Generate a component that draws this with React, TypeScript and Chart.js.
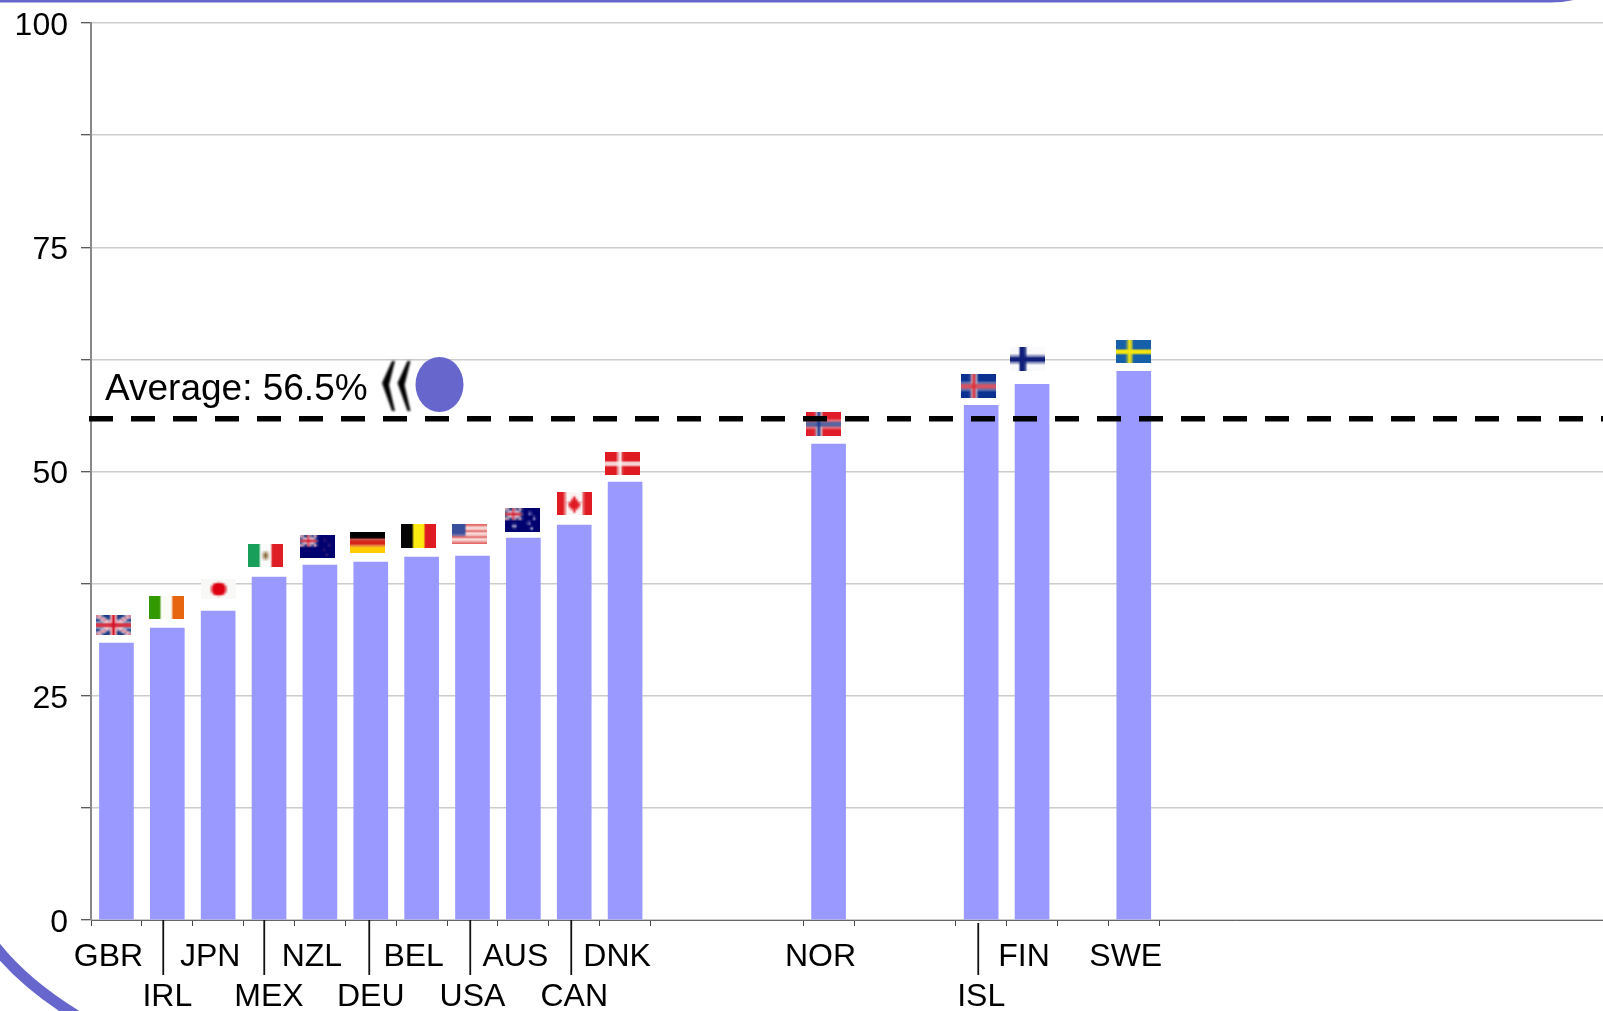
import React, { useEffect, useRef } from "react";
import { Chart, registerables } from "chart.js";

Chart.register(...registerables);

const _ = null;
const slotCodes = ["GBR", "IRL", "JPN", "MEX", "NZL", "DEU", "BEL", "USA", "AUS", "CAN", "DNK", _, _, _, "NOR", _, _, "ISL", "FIN", _, "SWE", _, _, _, _, _, _, _, _, _];
const topRowLabels = ["GBR", "", "JPN", "", "NZL", "", "BEL", "", "AUS", "", "DNK", "", "", "", "NOR", "", "", "", "FIN", "", "SWE", "", "", "", "", "", "", "", "", ""];
const bottomRowLabels = ["", "IRL", "", "MEX", "", "DEU", "", "USA", "", "CAN", "", "", "", "", "", "", "", "ISL", "", "", "", "", "", "", "", "", "", "", "", ""];
const shareValues = [30.87, 32.54, 34.44, 38.23, 39.56, 39.9, 40.45, 40.57, 42.57, 44.02, 48.81, _, _, _, 53.05, _, _, 57.39, 59.73, _, 61.18, _, _, _, _, _, _, _, _, _];
const averageLineValue = 55.87;
const averageCaption = "Average: 56.5%";
const yAxisMax = 100;
const yGridStep = 12.5;
const yLabelStep = 25;

const FONT = '"Liberation Sans", Arial, sans-serif';
const FRAME = "#6666cc";
const BAR = "#9999ff";

// [x shift from bar centre, gap above bar, height] of each flag picture
const FLAG_LAYOUT: Record<string, number[]> = {
  GBR: [-3, 8, 20], IRL: [-1, 9, 23], JPN: [0.5, 12, 20], MEX: [-3.5, 10, 23], NZL: [-2.5, 7, 23],
  DEU: [-3, 9, 21], BEL: [-3, 9, 24], USA: [-3.5, 12, 20], AUS: [-1, 6, 24], CAN: [0, 10, 23],
  DNK: [-2.5, 7, 23], NOR: [-5, 8, 24], ISL: [-2.5, 7, 24], FIN: [-4.5, 13, 24], SWE: [0, 8, 23],
};
// leader lines to the labels of the lower row: shift from slot centre
const LEADERS: Record<string, number> = { IRL: -4, MEX: -5, DEU: -2, USA: -3, CAN: -3.5, ISL: -3 };

function stripesV(c: CanvasRenderingContext2D, w: number, h: number, cols: string[]) {
  cols.forEach((col, i) => { c.fillStyle = col; c.fillRect((i * w) / cols.length, 0, w / cols.length, h); });
}
function stripesH(c: CanvasRenderingContext2D, w: number, h: number, cols: string[]) {
  cols.forEach((col, i) => { c.fillStyle = col; c.fillRect(0, (i * h) / cols.length, w, h / cols.length); });
}
function cross(c: CanvasRenderingContext2D, w: number, h: number, cx: number, t: number, col: string) {
  c.fillStyle = col;
  c.fillRect(cx - t / 2, 0, t, h);
  c.fillRect(0, h / 2 - t / 2, w, t);
}
function union(c: CanvasRenderingContext2D, w: number, h: number) {
  c.fillStyle = "#1c3a86"; c.fillRect(0, 0, w, h);
  c.lineCap = "butt";
  c.strokeStyle = "#f4e4ea"; c.lineWidth = h * 0.2;
  c.beginPath(); c.moveTo(0, 0); c.lineTo(w, h); c.moveTo(w, 0); c.lineTo(0, h); c.stroke();
  c.strokeStyle = "#d0506a"; c.lineWidth = h * 0.08;
  c.beginPath(); c.moveTo(0, 0); c.lineTo(w, h); c.moveTo(w, 0); c.lineTo(0, h); c.stroke();
  cross(c, w, h, w / 2, h * 0.3, "#f6f0f2");
  cross(c, w, h, w / 2, h * 0.17, "#d2142a");
}
function drawFlagArt(code: string, c: CanvasRenderingContext2D, w: number, h: number) {
  switch (code) {
    case "GBR": union(c, w, h); break;
    case "IRL": stripesV(c, w, h, ["#339900", "#fbfbf6", "#e8650f"]); break;
    case "JPN":
      c.fillStyle = "#f8f8f6"; c.fillRect(0, 0, w, h);
      c.fillStyle = "#dd0011"; c.beginPath(); c.arc(w / 2, h / 2, h * 0.32, 0, 7); c.fill();
      break;
    case "MEX":
      stripesV(c, w, h, ["#18a05a", "#fbfbfb", "#de1d24"]);
      c.fillStyle = "#8a6a3a"; c.fillRect(w / 2 - 1, h / 2 - 1.5, 2, 3);
      break;
    case "NZL":
    case "AUS": {
      c.fillStyle = "#00006e"; c.fillRect(0, 0, w, h);
      c.save(); c.beginPath(); c.rect(0, 0, w / 2, h / 2); c.clip();
      union(c, w / 2, h / 2); c.restore();
      c.fillStyle = code === "NZL" ? "#4a2a7a" : "#d8d8ee";
      [[0.72, 0.22], [0.84, 0.42], [0.68, 0.62], [0.76, 0.84]].forEach(([a, b]) => {
        c.fillRect(a * w - 0.5, b * h - 0.5, 1, 1);
      });
      if (code === "AUS") c.fillRect(w * 0.22, h * 0.68, 1.4, 1.4);
      break;
    }
    case "DEU": stripesH(c, w, h, ["#000000", "#d8261a", "#ffcc00"]); break;
    case "BEL": stripesV(c, w, h, ["#050505", "#fdea10", "#e01a22"]); break;
    case "USA":
      stripesH(c, w, h, ["#e46a6a", "#f8e4e0", "#e46a6a", "#f8e4e0", "#e46a6a", "#f8e4e0", "#e46a6a"]);
      c.fillStyle = "#3a4f9c"; c.fillRect(0, 0, w * 0.4, h * 0.57);
      break;
    case "CAN":
      stripesV(c, w, h, ["#e01a22", "#fbf6f6", "#fbf6f6", "#e01a22"]);
      c.fillStyle = "#e01a22";
      c.beginPath();
      c.moveTo(w / 2, h * 0.15); c.lineTo(w * 0.62, h * 0.45); c.lineTo(w * 0.7, h * 0.45);
      c.lineTo(w * 0.6, h * 0.75); c.lineTo(w * 0.4, h * 0.75); c.lineTo(w * 0.3, h * 0.45); c.lineTo(w * 0.38, h * 0.45);
      c.closePath(); c.fill();
      c.fillRect(w / 2 - 0.4, h * 0.7, 0.8, h * 0.2);
      break;
    case "DNK":
      c.fillStyle = "#e01a22"; c.fillRect(0, 0, w, h);
      cross(c, w, h, w * 0.42, h * 0.17, "#f8f2f2");
      break;
    case "NOR":
      c.fillStyle = "#e01e2a"; c.fillRect(0, 0, w, h);
      cross(c, w, h, w * 0.36, h * 0.3, "#e8c0c8");
      cross(c, w, h, w * 0.36, h * 0.14, "#1c3f90");
      break;
    case "ISL":
      c.fillStyle = "#0a3090"; c.fillRect(0, 0, w, h);
      cross(c, w, h, w * 0.36, h * 0.3, "#b0b0cc");
      cross(c, w, h, w * 0.36, h * 0.14, "#e0303a");
      break;
    case "FIN":
      c.fillStyle = "#fafafc"; c.fillRect(0, 0, w, h);
      cross(c, w, h, w * 0.36, h * 0.28, "#10207a");
      break;
    case "SWE":
      c.fillStyle = "#1560a8"; c.fillRect(0, 0, w, h);
      cross(c, w, h, w * 0.38, h * 0.2, "#f4e410");
      break;
  }
}

const flagPictures = {
  id: "flagPictures",
  afterDatasetsDraw(chart: any) {
    const { ctx } = chart;
    const bars = chart.getDatasetMeta(0).data;
    slotCodes.forEach((code, i) => {
      if (!code) return;
      const [dx, gap, height] = FLAG_LAYOUT[code];
      const el = bars[i];
      const off = document.createElement("canvas");
      off.width = 15;
      off.height = 10;
      const oc = off.getContext("2d")!;
      drawFlagArt(code, oc, 15, 10);
      ctx.save();
      ctx.imageSmoothingEnabled = true;
      ctx.drawImage(off, el.x + dx - 17.5, el.y - gap - height, 35, height);
      ctx.restore();
    });
  },
};

const decorations = {
  id: "decorations",
  afterDraw(chart: any) {
    const { ctx, scales } = chart;
    ctx.save();
    // average line, placed by the value scale
    const yAvg = scales.y.getPixelForValue(averageLineValue);
    ctx.strokeStyle = "#000";
    ctx.lineWidth = 5.5;
    ctx.setLineDash([24, 18]);
    ctx.beginPath();
    ctx.moveTo(89, yAvg);
    ctx.lineTo(1617, yAvg);
    ctx.stroke();
    ctx.setLineDash([]);
    // leader lines for the second label row
    ctx.strokeStyle = "#111111";
    ctx.lineWidth = 1.8;
    bottomRowLabels.forEach((label, i) => {
      if (!label) return;
      const x = Math.round(scales.x.getPixelForValue(i) + LEADERS[label]) + 0.25;
      ctx.beginPath();
      ctx.moveTo(x, label === "ISL" ? 923 : 920);
      ctx.lineTo(x, 975);
      ctx.stroke();
    });
    // caption
    ctx.fillStyle = "#000";
    ctx.font = `37px ${FONT}`;
    ctx.textBaseline = "alphabetic";
    ctx.textAlign = "left";
    ctx.fillText(averageCaption, 105, 400);
    // chevrons
    ctx.filter = "blur(0.9px)";
    ctx.fillStyle = "#000";
    [0, 15.5].forEach((d) => {
      ctx.beginPath();
      ctx.moveTo(392 + d, 361);
      ctx.lineTo(382 + d, 383);
      ctx.lineTo(392 + d, 411);
      ctx.lineTo(395 + d, 411);
      ctx.lineTo(389 + d, 385);
      ctx.lineTo(395 + d, 361);
      ctx.closePath();
      ctx.fill();
    });
    ctx.filter = "none";
    // bullet
    ctx.fillStyle = FRAME;
    ctx.beginPath();
    ctx.ellipse(439.5, 384.5, 24, 27.5, 0, 0, Math.PI * 2);
    ctx.fill();
    // slide frame
    ctx.strokeStyle = FRAME;
    ctx.lineWidth = 5;
    ctx.beginPath();
    ctx.moveTo(-5, 0);
    ctx.lineTo(1550, 0);
    ctx.quadraticCurveTo(1572, 0, 1590, -8);
    ctx.stroke();
    ctx.lineWidth = 11;
    ctx.beginPath();
    ctx.moveTo(-6, 945);
    ctx.quadraticCurveTo(25, 985, 82, 1019);
    ctx.stroke();
    ctx.restore();
  },
};

const noPad = (s: any) => {
  s.paddingTop = 0;
  s.paddingBottom = 0;
  s.paddingLeft = 0;
  s.paddingRight = 0;
};

export default function App() {
  const ref = useRef<HTMLCanvasElement>(null);
  useEffect(() => {
    const tickFont = { family: FONT, size: 32 };
    const xFont = { family: FONT, size: 32 };
    const chart = new Chart(ref.current!, {
      data: {
        labels: topRowLabels,
        datasets: [
          {
            type: "bar",
            data: shareValues,
            backgroundColor: BAR,
            barThickness: 34,
            xAxisID: "x",
            yAxisID: "y",
          },
        ],
      } as any,
      plugins: [flagPictures, decorations],
      options: {
        responsive: false,
        animation: false,
        events: [],
        layout: { padding: { top: 23, left: 0, right: 0, bottom: 0 } },
        plugins: { legend: { display: false }, tooltip: { enabled: false }, title: { display: false } },
        scales: {
          x: {
            type: "category",
            position: "bottom",
            weight: 0,
            offset: true,
            afterFit: (s: any) => { s.height = 51; noPad(s); },
            grid: {
              offset: true,
              drawOnChartArea: false,
              tickLength: 6,
              tickWidth: 1,
              tickColor: (c: any) =>
                slotCodes[c.index] || slotCodes[c.index - 1] ? "#444444" : "rgba(0,0,0,0)",
            },
            border: { color: "#666666", width: 1 },
            ticks: {
              autoSkip: false,
              maxRotation: 0,
              minRotation: 0,
              labelOffset: -8,
              padding: 12,
              color: "#000",
              font: xFont,
            },
          },
          xBottom: {
            type: "category",
            position: "bottom",
            weight: 1,
            labels: bottomRowLabels,
            offset: true,
            afterFit: (s: any) => { s.height = 40; noPad(s); },
            grid: { display: false, drawTicks: false },
            border: { display: false },
            ticks: {
              autoSkip: false,
              maxRotation: 0,
              minRotation: 0,
              padding: 7,
              color: "#000",
              font: xFont,
            },
          },
          y: {
            type: "linear",
            min: 0,
            max: yAxisMax,
            afterFit: (s: any) => { s.width = 91; noPad(s); },
            grid: {
              color: "#cccccc",
              lineWidth: 1.5,
              tickColor: "#222222",
              tickWidth: 1,
              tickLength: 10,
            },
            border: { color: "#888888", width: 2 },
            ticks: {
              stepSize: yGridStep,
              autoSkip: false,
              padding: 13,
              labelOffset: 3,
              color: "#000",
              font: tickFont,
              callback: (v: any) => (Number(v) % yLabelStep === 0 ? String(v) : ""),
            },
          },
        },
      } as any,
    });
    return () => chart.destroy();
  }, []);
  return (
    <div style={{ position: "fixed", left: 0, top: 0, width: 1603, height: 1011, overflow: "hidden", background: "#fff" }}>
      <canvas ref={ref} width={1617} height={1011} style={{ display: "block", width: 1617, height: 1011 }} />
    </div>
  );
}
